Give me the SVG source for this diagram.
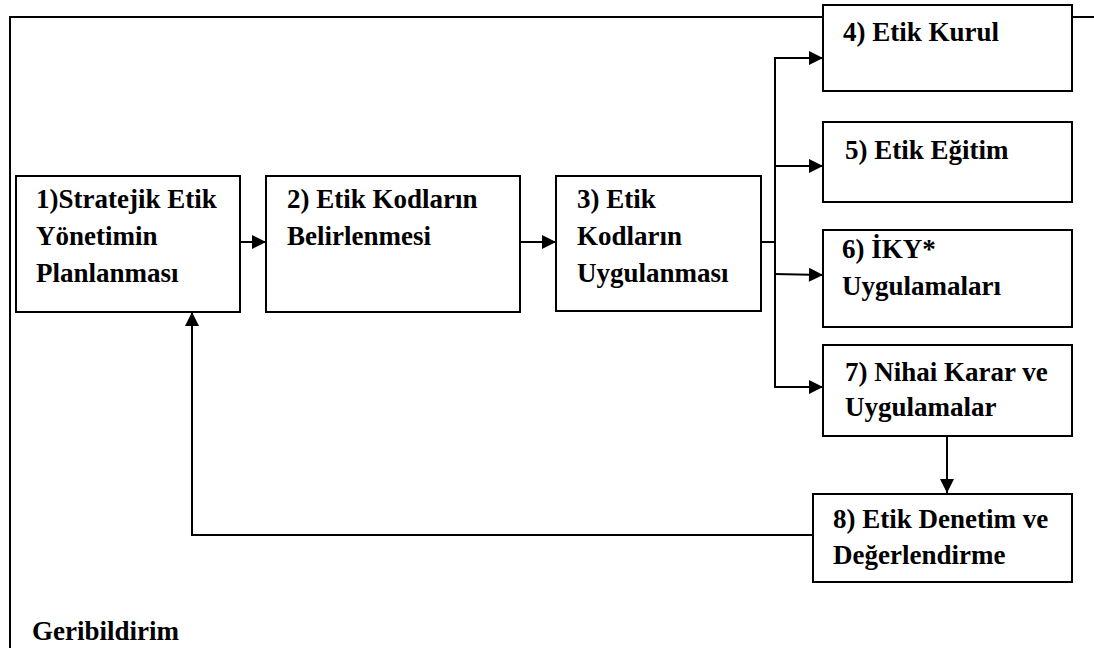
<svg xmlns="http://www.w3.org/2000/svg" width="1094" height="648" viewBox="0 0 1094 648">
<defs>
<marker id="ah" viewBox="0 0 10 10" refX="10" refY="5" markerWidth="8" markerHeight="7" markerUnits="strokeWidth" orient="auto">
<path d="M0,0 L10,5 L0,10 z" fill="#000"/>
</marker>
<style>
.box{fill:#fff;stroke:#000;stroke-width:2}
.ln{fill:none;stroke:#000;stroke-width:2}
.ar{fill:none;stroke:#000;stroke-width:2;marker-end:url(#ah)}
text{font-family:"Liberation Serif","Times New Roman",serif;font-weight:bold;font-size:27px;fill:#000}
</style>
</defs>
<rect width="1094" height="648" fill="#fff"/>
<g id="frame">
<path class="ln" d="M10,648 L10,17 L1094,17"/>
</g>
<g id="connectors">
<line class="ar" x1="240" y1="242" x2="266" y2="242"/>
<line class="ar" x1="520" y1="242" x2="556" y2="242"/>
<line class="ln" x1="761" y1="242" x2="775" y2="242"/>
<line class="ln" x1="775" y1="57" x2="775" y2="387"/>
<line class="ar" x1="774" y1="58" x2="823" y2="58"/>
<line class="ar" x1="774" y1="166" x2="823" y2="166"/>
<line class="ar" x1="774" y1="274" x2="823" y2="275"/>
<line class="ar" x1="774" y1="387" x2="823" y2="387"/>
<line class="ar" x1="947" y1="436" x2="947" y2="493"/>
<path class="ar" d="M813,535 L192,535 L192,312"/>
</g>
<g id="n4"><rect class="box" x="823" y="5" width="249" height="86"/><text x="843" y="41">4) Etik Kurul</text></g>
<g id="n1"><rect class="box" x="16" y="176" width="224" height="136"/><text x="36" y="208">1)Stratejik Etik</text><text x="36" y="245">Yönetimin</text><text x="36" y="282">Planlanması</text></g>
<g id="n2"><rect class="box" x="266" y="176" width="254" height="136"/><text x="287" y="208">2) Etik Kodların</text><text x="287" y="245">Belirlenmesi</text></g>
<g id="n3"><rect class="box" x="556" y="176" width="205" height="135"/><text x="577" y="208">3) Etik</text><text x="577" y="245">Kodların</text><text x="577" y="282">Uygulanması</text></g>
<g id="n5"><rect class="box" x="823" y="122" width="249" height="80"/><text x="845" y="159">5) Etik Eğitim</text></g>
<g id="n6"><rect class="box" x="823" y="230" width="249" height="97"/><text x="842" y="258">6) İKY*</text><text x="842" y="295">Uygulamaları</text></g>
<g id="n7"><rect class="box" x="823" y="345" width="249" height="91"/><text x="845" y="381">7) Nihai Karar ve</text><text x="845" y="416">Uygulamalar</text></g>
<g id="n8"><rect class="box" x="813" y="494" width="259" height="88"/><text x="833" y="528">8) Etik Denetim ve</text><text x="833" y="564">Değerlendirme</text></g>
<g id="label"><text x="32" y="640">Geribildirim</text></g>
</svg>
